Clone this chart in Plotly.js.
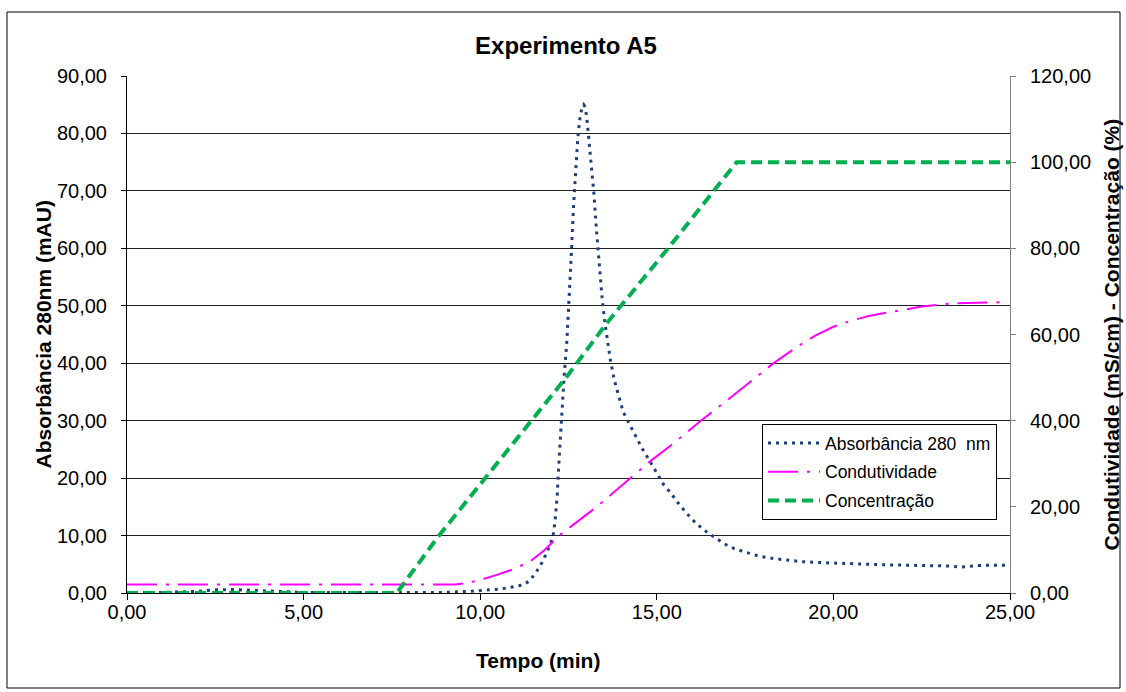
<!DOCTYPE html>
<html>
<head>
<meta charset="utf-8">
<script src="https://cdn.plot.ly/plotly-3.0.1.min.js"></script>
<style>html,body{margin:0;padding:0;background:#fff;}#chart{width:1126px;height:692px;}</style>
</head>
<body>
<div id="chart"></div>
<script>
// Absorbância 280 nm (left axis, mAU)
var absTime = [0,1,2,2.5,3,3.5,4,4.5,5,6,7,8,9,9.7,10,10.4,10.75,11,11.2,11.4,11.6,11.75,11.9,12,12.06,12.12,12.18,12.24,12.3,12.38,12.45,12.52,12.58,12.64,12.7,12.76,12.82,12.88,12.93,12.98,13.03,13.1,13.16,13.22,13.3,13.36,13.45,13.52,13.6,13.68,13.8,13.92,14.05,14.26,14.43,14.6,14.78,15,15.2,15.4,15.6,15.84,16.1,16.35,16.6,16.9,17.2,17.5,17.9,18.3,18.7,19.1,19.6,20,20.5,20.95,21.5,22,22.8,23.3,23.6,24,24.5,25];
var absValue = [0.1,0.1,0.3,0.55,0.6,0.5,0.35,0.2,0.1,0.1,0.1,0.1,0.1,0.3,0.4,0.6,0.85,1.1,1.4,2.1,3.8,5.3,7.2,8.8,9.8,12.5,17,24,31,38,43.5,51,59,67,74,79,82.5,84.5,85,84.5,82,77.5,73,69.5,62.5,57.5,51.5,47.5,44,40.8,37,34.5,31.5,29,27,25,23.2,21,18.8,17.4,15.7,13.9,12.2,10.9,9.8,8.6,7.7,7.1,6.4,6.0,5.7,5.45,5.3,5.2,5.1,5.0,4.9,4.85,4.76,4.7,4.5,4.75,4.85,4.85];

// Condutividade (right axis, mS/cm)
var condTime = [0,9.3,9.6,10,10.47,10.9,11.41,11.8,12.26,12.8,13.3,13.8,14.24,14.8,15.47,16.22,17,17.83,18.3,19,19.5,20,20.5,21,21.89,22.5,23.3,24,24.86];
var condValue = [2.0,2.0,2.3,3.0,4.2,5.4,7.3,9.8,13.5,16.8,20.0,23.5,26.6,30.5,34.7,39.8,44.8,50.2,53.3,57.3,59.8,61.8,63.2,64.3,65.7,66.5,67.2,67.4,67.5];

// Concentração (right axis, %)
var concTime = [0,7.64,8.81,10.09,11.41,12.45,13.58,15.28,16.6,17.26,25];
var concValue = [0,0,13.1,26.2,39.8,50.2,62.6,79.6,93.2,100,100];

var xTickVals = [0,5,10,15,20,25];

var FONT = 'Liberation Sans, Arial, sans-serif';

var traces = [
  {x: absTime, y: absValue, name: 'Absorbância 280  nm', type: 'scatter', mode: 'lines',
   yaxis: 'y', legendgroup: 'a',
   line: {color: '#1F3F7C', width: 3, dash: '3px,5px'}},
  {x: condTime, y: condValue, name: 'Condutividade', type: 'scatter', mode: 'lines',
   yaxis: 'y2', legendgroup: 'b',
   line: {color: '#FF00FF', width: 2, dash: '30px,9px,3px,9px'}},
  {x: concTime, y: concValue, name: 'Concentração', type: 'scatter', mode: 'lines',
   yaxis: 'y2', legendgroup: 'c',
   line: {color: '#00B050', width: 4, dash: '11px,6px'}}
];

var layout = {
  width: 1126, height: 692,
  paper_bgcolor: '#fff', plot_bgcolor: '#fff',
  separators: ',.',
  margin: {l: 127, r: 116, t: 76, b: 99},
  font: {family: FONT, size: 20, color: '#000'},
  title: {text: 'Experimento A5', font: {family: FONT, size: 24, weight: 'bold', color: '#000'},
          x: (566-127)/883, xref: 'paper', xanchor: 'center', y: 1 - 46/692, yref: 'container', yanchor: 'middle'},
  showlegend: true,
  legend: {x: (762-127)/883, y: (593-424)/517, xanchor: 'left', yanchor: 'top', bgcolor: '#fff',
           bordercolor: '#000', borderwidth: 1, font: {family: FONT, size: 17.5, color: '#000'},
           traceorder: 'grouped', tracegroupgap: 3, itemwidth: 52},
  xaxis: {range: [0, 25], tickvals: xTickVals, tickformat: '.2f', showgrid: false, zeroline: false,
          showline: true, linecolor: '#000', linewidth: 1, ticks: 'outside', ticklen: 6, tickcolor: '#000',
          tickfont: {family: FONT, size: 20}, ticklabelstandoff: -5},
  yaxis: {range: [0, 90], dtick: 10, tickformat: '.2f', showgrid: true, gridcolor: '#222', gridwidth: 1,
          zeroline: false, showline: true, linecolor: '#000', linewidth: 1, ticks: 'outside', ticklen: 5,
          tickcolor: '#000', tickfont: {family: FONT, size: 20}, ticklabelstandoff: 10},
  yaxis2: {range: [0, 120], dtick: 20, tickformat: '.2f', overlaying: 'y', side: 'right', showgrid: false,
           zeroline: false, showline: true, linecolor: '#808080', linewidth: 1, ticks: 'outside', ticklen: 5,
           tickcolor: '#808080', tickfont: {family: FONT, size: 20}, ticklabelstandoff: 10},
  annotations: [
    {text: 'Tempo (min)', xref: 'paper', yref: 'paper', x: (538-127)/883, y: (593-660)/517,
     xanchor: 'center', yanchor: 'middle', showarrow: false, font: {family: FONT, size: 21, weight: 'bold', color: '#000'}},
    {text: 'Absorbância 280nm (mAU)', xref: 'paper', yref: 'paper', x: (43-127)/883, y: 0.5, textangle: -90,
     xanchor: 'center', yanchor: 'middle', showarrow: false, font: {family: FONT, size: 21, weight: 'bold', color: '#000'}},
    {text: 'Condutividade (mS/cm) - Concentração (%)', xref: 'paper', yref: 'paper', x: (1111-127)/883, y: 0.5, textangle: -90,
     xanchor: 'center', yanchor: 'middle', showarrow: false, font: {family: FONT, size: 21, weight: 'bold', color: '#000'}}
  ],
  shapes: [
    {type: 'rect', xref: 'paper', yref: 'paper', x0: (7-127)/883, x1: (1120-127)/883,
     y0: (593-688)/517, y1: (593-12)/517, line: {color: '#000', width: 1}, fillcolor: 'rgba(0,0,0,0)', layer: 'below'}
  ]
};

Plotly.newPlot('chart', traces, layout, {displayModeBar: false, staticPlot: true});
</script>
</body>
</html>
